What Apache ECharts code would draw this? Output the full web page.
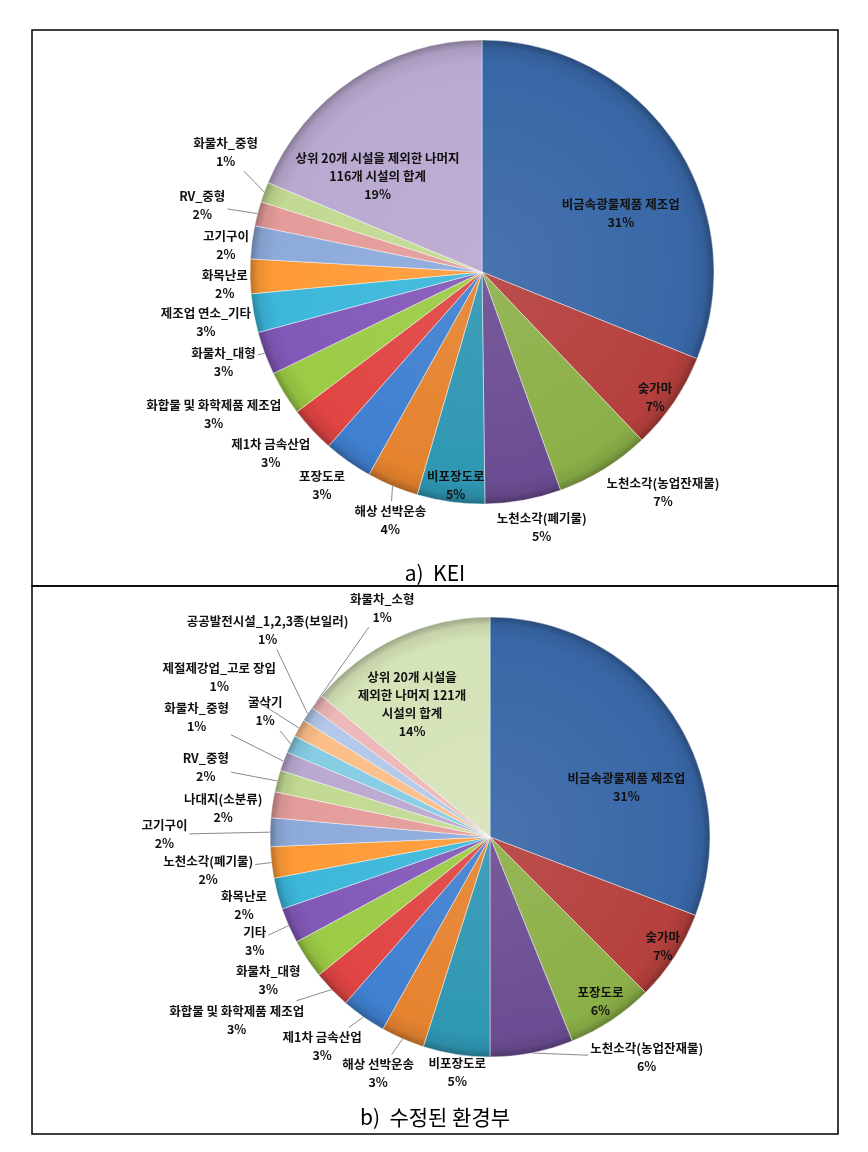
<!DOCTYPE html>
<html>
<head>
<meta charset="utf-8">
<script src="https://cdn.jsdelivr.net/npm/echarts@6/dist/echarts.min.js"></script>
<style>
html,body{margin:0;padding:0;background:#fff;}
#c{width:868px;height:1152px;}
</style>
</head>
<body>
<div id="c"></div>
<script>
// ---------------- data ----------------
const namesA = ['비금속광물제품 제조업','숯가마','노천소각(농업잔재물)','노천소각(폐기물)','비포장도로','해상 선박운송','포장도로','제1차 금속산업','화합물 및 화학제품 제조업','화물차_대형','제조업 연소_기타','화목난로','고기구이','RV_중형','화물차_중형','상위 20개 시설을 제외한 나머지\n116개 시설의 합계'];
const valuesA = [31.1, 6.8, 6.6, 5.3, 4.7, 3.6, 3.4, 3.2, 3.1, 3.0, 2.7, 2.4, 2.3, 1.7, 1.4, 18.7];

const namesB = ['비금속광물제품 제조업','숯가마','포장도로','노천소각(농업잔재물)','비포장도로','해상 선박운송','제1차 금속산업','화합물 및 화학제품 제조업','화물차_대형','기타','화목난로','노천소각(폐기물)','고기구이','나대지(소분류)','RV_중형','화물차_중형','굴삭기','제절제강업_고로 장입','공공발전시설_1,2,3종(보일러)','화물차_소형','상위 20개 시설을\n제외한 나머지 121개\n시설의 합계'];
const valuesB = [30.8, 6.7, 6.4, 6.1, 4.9, 3.2, 3.3, 2.8, 2.9, 2.6, 2.3, 2.3, 2.1, 1.9, 1.6, 1.4, 1.3, 1.3, 1.1, 1.1, 13.9];

const captions = ['a)  KEI', 'b)  수정된 환경부'];

// ---------------- style ----------------
const palette = ['#3867A7','#B5403D','#8CB048','#6C4D93','#2F97B3','#E5832F','#4080D0','#E04543','#9CCB45','#8258B8','#3CB7DA','#FF9A36','#8DAADB','#E49C9A','#C2D992','#B9A8D0','#85CCE3','#FBBE88','#B3C8EA','#EDB8B7','#D5E3B8'];

// label placement: [radius factor, angle nudge (deg) from slice middle, leader line]
const labelSpecA = [[0.65,11.0,0],[0.92,1.6,0],[1.23,-7.7,0],[1.13,-2.9,0],[0.925,-0.7,0],[1.14,-2.4,1],[1.15,1.6,0],[1.20,2.2,0],[1.31,3.5,0],[1.18,1.3,1],[1.21,-0.1,0],[1.11,-1.6,0],[1.11,-1.4,0],[1.24,-1.1,1],[1.22,4.9,1],[0.61,-13.9,0]];
const labelSpecB = [[0.66,14.4,0],[0.93,-0.6,0],[0.90,-0.4,0],[1.23,-24.4,1],[1.08,-0.9,0],[1.19,1.9,1],[1.22,3.6,1],[1.42,8.1,1],[1.20,0.8,0],[1.17,-0.2,1],[1.16,-0.5,0],[1.29,-0.1,1],[1.48,-0.8,1],[1.22,-2.3,0],[1.33,-1.0,1],[1.44,2.0,1],[1.17,4.1,1],[1.43,0.9,1],[1.38,8.9,1],[1.15,26.8,1],[0.70,-5.4,0]];

const pieA = {cx: 482, cy: 272, r: 232};
const pieB = {cx: 490, cy: 837, r: 220};

function shade(hex, f) {
  const n = parseInt(hex.slice(1), 16);
  let r = (n >> 16) & 255, g = (n >> 8) & 255, b = n & 255;
  if (f < 0) { r = r * (1 + f); g = g * (1 + f); b = b * (1 + f); }
  else { r = r + (255 - r) * f; g = g + (255 - g) * f; b = b + (255 - b) * f; }
  return 'rgb(' + Math.round(r) + ',' + Math.round(g) + ',' + Math.round(b) + ')';
}
function grad(hex, p) {
  return {
    type: 'radial', x: p.cx, y: p.cy, r: p.r, global: true,
    colorStops: [
      {offset: 0, color: shade(hex, 0.08)},
      {offset: 0.9, color: hex},
      {offset: 0.965, color: shade(hex, -0.08)},
      {offset: 1, color: shade(hex, -0.28)}
    ]
  };
}

function makeLayout(values, p, spec) {
  const total = values.reduce((a, b) => a + b, 0);
  const mids = [];
  let acc = 0;
  values.forEach(v => { mids.push((acc + v / 2) / total * 360); acc += v; });
  return function (params) {
    const i = params.dataIndex;
    const s = spec[i];
    const a = (mids[i] + s[1]) * Math.PI / 180;
    const x = p.cx + s[0] * p.r * Math.sin(a);
    const y = p.cy - s[0] * p.r * Math.cos(a);
    let pts = [[x, y], [x, y], [x, y]];
    if (s[2]) {
      const am = mids[i] * Math.PI / 180;
      const ex = p.cx + p.r * Math.sin(am), ey = p.cy - p.r * Math.cos(am);
      const hw = params.labelRect.width / 2 + 2, hh = params.labelRect.height / 2 + 1;
      const dx = ex - x, dy = ey - y;
      const t = Math.min(hw / Math.max(Math.abs(dx), 1e-6), hh / Math.max(Math.abs(dy), 1e-6));
      if (t < 1) {
        const lx = x + dx * t, ly = y + dy * t;
        pts = [[ex, ey], [(ex + lx) / 2, (ey + ly) / 2], [lx, ly]];
      }
    }
    return {x: x, y: y, align: 'center', verticalAlign: 'middle', labelLinePoints: pts};
  };
}

function buildSeries(names, values, p, spec) {
  return {
    type: 'pie',
    center: [p.cx, p.cy],
    radius: [0, p.r],
    startAngle: 90,
    clockwise: true,
    avoidLabelOverlap: false,
    silent: true,
    data: names.map((n, i) => ({
      name: n, value: values[i],
      itemStyle: {color: grad(palette[i], p)}
    })),
    itemStyle: {borderColor: 'rgba(255,255,255,0.55)', borderWidth: 0.8},
    label: {
      show: true, position: 'outside',
      formatter: q => q.name + '\n' + Math.round(q.percent) + '%',
      fontFamily: '"Noto Sans CJK KR", sans-serif',
      fontSize: 12.5, fontWeight: 'bold', color: '#111', lineHeight: 18
    },
    labelLine: {show: true, lineStyle: {color: '#8a8a8a', width: 1}},
    labelLayout: makeLayout(values, p, spec)
  };
}

const chart = echarts.init(document.getElementById('c'), null, {renderer: 'canvas'});
chart.setOption({
  animation: false,
  backgroundColor: '#ffffff',
  graphic: [
    {type: 'rect', shape: {x: 32, y: 30, width: 806, height: 556}, style: {fill: 'none', stroke: '#000', lineWidth: 1.5}},
    {type: 'rect', shape: {x: 32, y: 586, width: 806, height: 548}, style: {fill: 'none', stroke: '#000', lineWidth: 1.5}},
    {type: 'text', x: 435, y: 573, style: {text: captions[0], align: 'center', verticalAlign: 'middle', font: '21px "Noto Sans CJK KR", sans-serif', fill: '#000'}},
    {type: 'text', x: 435, y: 1117, style: {text: captions[1], align: 'center', verticalAlign: 'middle', font: '21px "Noto Sans CJK KR", sans-serif', fill: '#000'}}
  ],
  series: [
    buildSeries(namesA, valuesA, pieA, labelSpecA),
    buildSeries(namesB, valuesB, pieB, labelSpecB)
  ]
});
</script>
</body>
</html>
